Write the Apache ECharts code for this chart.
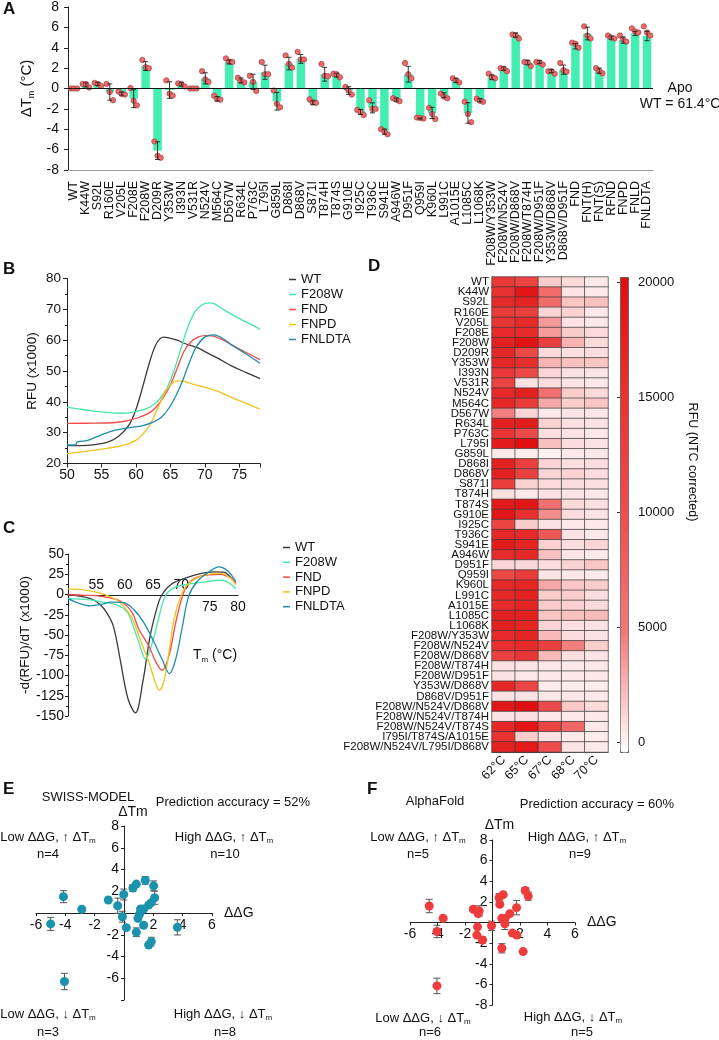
<!DOCTYPE html>
<html><head><meta charset="utf-8">
<script src="https://cdn.jsdelivr.net/npm/echarts@6/dist/echarts.min.js"></script>
<style>html,body{margin:0;padding:0;background:#fff}#c{width:719px;height:1040px}</style>
</head><body><div id="c"></div><script>
const FONT = '"Liberation Sans", Arial, Helvetica, sans-serif';

// ---------- Panel A ----------
const mutants = ['WT','K44W','S92L','R160E','V205L','F208E','F208W','D209R','Y353W','I393N','V531R','N524V','M564C','D567W','R634L','P763C','L795I','G859L','D868I','D868V','S871I','T874H','T874S','G910E','I925C','T936C','S941E','A946W','D951F','Q959I','K960L','L991C','A1015E','L1085C','L1068K','F208W/Y353W','F208W/N524V','F208W/D868V','F208W/T874H','F208W/D951F','Y353W/D868V','D868V/D951F','FND','FNT(H)','FNT(S)','RFND','FNPD','FNLD','FNLDTA'];
const dTmMean = [0,0.35,0.45,-0.35,-0.5,-1.0,2.2,-6.1,-0.15,0.4,0,1.0,-1.0,2.6,0.8,0.65,1.6,-1.25,2.45,2.9,-1.4,1.4,1.3,-0.2,-2.3,-1.9,-4.25,-1.1,1.4,-2.95,-2.4,-0.65,0.8,-2.4,-1.15,1.1,1.95,5.25,2.55,2.6,1.7,1.85,4.15,5.4,1.75,5.0,4.75,5.4,5.15];
const dTmReps = [[0,0,0],[0.45,0.45,0.1],[0.55,0.45,0.25],[0.45,-0.35,-1.15],[-0.3,-0.55,-0.6],[0.05,-1.2,-1.65],[2.8,2.1,2.0],[-5.2,-6.6,-6.8],[0.8,-0.5,-0.7],[0.5,0.45,0.2],[0,0,0],[1.7,0.9,0.65],[-0.7,-1.05,-1.1],[2.95,2.65,2.6],[1.05,0.7,0.6],[1.25,0.65,-0.25],[2.6,1.4,1.4],[-0.2,-1.5,-1.85],[3.25,2.4,2.05],[3.6,2.85,2.85],[-1.05,-1.35,-1.4],[2.4,1.25,1.2],[1.45,1.4,1.1],[0.15,-0.2,-0.6],[-2.1,-2.3,-2.6],[-1.15,-2.0,-2.0],[-4.0,-4.2,-4.5],[-0.95,-1.1,-1.25],[2.5,1.4,1.0],[-2.85,-2.9,-2.95],[-1.9,-2.5,-3.0],[-0.5,-0.8,-0.95],[1.0,0.8,0.6],[-1.3,-2.5,-3.3],[-1.0,-1.2,-1.3],[1.45,1.15,1.0],[2.0,1.95,1.7],[5.3,5.2,4.9],[2.6,2.55,2.2],[2.6,2.55,2.35],[1.7,1.7,1.45],[2.5,1.8,1.65],[4.5,4.4,4.0],[6.1,5.2,4.9],[2.0,1.7,1.5],[5.2,5.0,4.9],[5.2,4.8,4.6],[5.9,5.6,5.5],[6.1,5.5,5.2]];

// ---------- Panel B (RFU x1000 vs T) ----------
const bWT = [[50,25.8],[52,25.8],[54,26.1],[56,27],[57.5,28.8],[59,32.5],[60,37.5],[61,45],[62,53],[63,59],[64,61],[65,60.6],[66,60],[67,59],[69,57.5],[70,56.3],[72,54],[74,51.5],[76,49.5],[78,47.5]];
const bF208W = [[50,38.3],[52,37.6],[54,37],[56,36.5],[58,36.3],[60,36.8],[61.5,37.8],[62.5,39],[63.5,41],[64.5,44.5],[65.5,50],[66.5,57],[67.5,64],[68.5,69],[69.5,71.3],[70.5,72.1],[71.5,71.7],[73,69.5],[75,67],[77,64.8],[78,63.5]];
const bFND = [[50,33],[54,33.1],[57,33.3],[59,34],[60.5,35],[62,36.5],[63,38.5],[64,41.5],[65,45.5],[66,51],[67,56.5],[68,59.5],[69,61],[70,61.5],[71,61.4],[72.5,60.2],[74,58.3],[76,56],[78,53.7]];
const bFNPD = [[50,23.2],[53,24],[56,25],[58,25.8],[60,27.5],[61,29.5],[62,32.5],[63,37],[64,42],[65,45.5],[66,46.8],[67,46.6],[68.5,45.6],[70,44.7],[72,43.3],[74,41.3],[76,39.5],[78,37.6]];
const bFNLDTA = [[50,26],[51.2,26],[51.5,27],[53,27.5],[55,29.3],[57,30.8],[59,31.6],[61,32.3],[62.5,33.4],[63.7,35],[64.8,38],[65.8,42],[66.8,47],[67.8,53],[68.8,58],[70,61],[71.3,61.7],[72.5,60.7],[74,58.3],[76,55.5],[78,52.5]];
const bYTicks = [20,30,40,50,60,70,80];

// ---------- Panel C (-dRFU/dT x1000) ----------
const cWT = [[50,0],[52,-2],[54,-5],[55.6,-12],[56.8,-22],[58,-39],[59.2,-80],[60.6,-129],[61.9,-146],[63.2,-108],[64.5,-51],[65.8,-14],[66.6,0],[68.1,12],[70.2,19],[73.5,26],[75.8,28],[77.5,27.5],[78.2,24.6],[79,19],[79.6,14]];
const cF208W = [[50,-5],[53,-6],[56,-9],[59,-14],[60.5,-22],[61.3,-35],[62.5,-59],[63.7,-80],[64.9,-59],[65.8,-35],[66.9,-6],[67.8,4],[69.3,10],[71.5,13],[73.5,15],[76.9,17.6],[78,16],[79.3,9.5],[79.6,7]];
const cFND = [[50,0],[53,-1],[55.6,-2],[59.2,-8],[61.3,-22],[62.5,-43],[64.3,-64],[65.4,-82],[66.6,-93.5],[67.8,-76],[69,-35],[70.2,-2],[71.3,14],[73.5,23],[76.9,25],[78.7,20.5],[79.6,14]];
const cFNPD = [[50,7],[53,5.5],[55.6,2],[57.5,-3],[59.2,-10],[61.3,-29],[62.7,-55],[64.3,-84],[65.4,-108.6],[66.1,-118],[66.9,-108],[67.8,-72],[68.7,-31],[69.9,-2],[71.1,12],[73.5,22.6],[76.9,26],[78.7,20],[79.6,12]];
const cFNLDTA = [[50,-5],[52,-11],[54,-14],[56,-12],[57.5,-9.5],[59.8,-10],[61.6,-18.5],[63.4,-35],[65.2,-59],[66.6,-80],[67.9,-97.6],[69,-80],[70.2,-39],[71.3,-2],[72.8,16],[74.9,28],[76.6,34],[78.2,29],[79.6,16]];

// ---------- Panel D (heatmap) ----------
const hmRows = ['WT','K44W','S92L','R160E','V205L','F208E','F208W','D209R','Y353W','I393N','V531R','N524V','M564C','D567W','R634L','P763C','L795I','G859L','D868I','D868V','S871I','T874H','T874S','G910E','I925C','T936C','S941E','A946W','D951F','Q959I','K960L','L991C','A1015E','L1085C','L1068K','F208W/Y353W','F208W/N524V','F208W/D868V','F208W/T874H','F208W/D951F','Y353W/D868V','D868V/D951F','F208W/N524V/D868V','F208W/N524V/T874H','F208W/N524V/T874S','I795I/T874S/A1015E','F208W/N524V/L795I/D868V'];
const hmTemps = ['62°C','65°C','67°C','68°C','70°C'];
const hmVals = [
[14000,12000,1500,1000,500],[15000,19000,6500,600,400],[16000,17000,6500,1800,2000],[13500,12500,1200,1300,400],
[14500,16000,3500,700,500],[16000,16000,3500,1500,1000],[17500,19500,13000,2500,1000],[16500,11000,1000,800,900],
[16500,15500,2500,2000,1800],[14000,11000,1200,700,600],[12000,700,900,600,500],[16500,17500,6000,1500,1000],
[16500,13000,3000,1500,1800],[4500,1200,400,600,500],[17500,18000,1300,800,700],[14500,10500,800,700,500],
[18000,20500,2000,900,700],[400,300,100,400,500],[17500,12500,1200,800,900],[17500,12500,1200,1300,900],
[13000,1300,1000,900,800],[800,400,700,600,500],[18500,19000,6000,1000,800],[19000,15500,4000,900,700],
[12000,1500,700,500,400],[16500,16000,9000,700,400],[18500,17000,1400,900,1200],[16000,16500,2000,600,400],
[1200,1100,900,1300,1800],[11000,13000,600,500,400],[16500,17000,3000,1700,1500],[16500,17500,1500,1500,900],
[16000,17000,1600,1400,1000],[17500,17500,1800,2000,2200],[17500,17000,1200,800,700],[16000,17000,2300,900,700],
[15500,16000,12500,4500,1500],[12500,14500,2300,800,600],[700,600,500,500,500],[700,500,400,400,500],
[16500,11500,300,300,300],[700,700,500,500,400],[19000,21000,10500,1700,1000],[700,800,500,500,400],
[16500,19000,12000,7000,500],[15000,1500,700,400,300],[17500,18500,10000,600,400]];

// ---------- Panel E (SWISS-MODEL) ----------
const eDDG = [-4.13,-2.88,-5.0,-4.06,-1.07,-0.43,-0.02,-0.11,0.16,0.61,0.84,1.45,0.84,0.95,1.07,1.13,1.34,1.34,1.68,1.86,2.02,2.09,1.68,1.86,3.64];
const eDTm = [1.5,0.34,-1.0,-6.3,1.2,0.67,1.7,-0.34,-1.35,2.3,2.66,3.0,-1.77,-0.49,-0.09,0.37,0.37,-1.13,0.73,0.95,2.5,1.4,-2.94,-2.63,-1.32];
const eErr = [0.55,0,0.6,0.75,0,0.7,0.5,0.5,0,0.3,0,0.35,0.4,0,0,0,0,0,0,0,0.45,0.6,0,0.4,0.7];

// ---------- Panel F (AlphaFold) ----------
const fDDG = [-4.6,-3.59,-4.04,-4.04,-1.40,-1.04,-0.97,-1.09,-1.14,-0.73,-0.07,0.48,0.53,0.78,0.68,0.92,0.90,0.68,1.26,1.45,1.77,1.75,2.23,2.38,2.6];
const fDTm = [1.6,0.41,-0.87,-6.15,1.28,0.86,1.12,-0.42,-1.22,-1.7,-0.32,2.4,1.76,2.7,0.41,0.38,-0.13,-2.5,0.86,-1.03,-1.22,1.44,-2.82,3.1,2.56];
const fErr = [0.65,0,0.6,0.75,0,0,0.5,0,0,0.3,0.45,0.4,0,0,0,0,0.55,0.45,0,0,0,0.7,0,0.3,0.4];

// ---------- build ----------
function sd(a){const m=a.reduce((s,v)=>s+v,0)/a.length;return Math.sqrt(a.reduce((s,v)=>s+(v-m)*(v-m),0)/(a.length-1));}
const aPts=[]; dTmReps.forEach((r,i)=>r.forEach((v,k)=>aPts.push([i,v,k])));
const aErr = dTmMean.map((m,i)=>[i,m,sd(dTmReps[i])]);
const hmData=[]; hmVals.forEach((row,r)=>row.forEach((v,c)=>hmData.push([c,r,v])));
const eData = eDDG.map((x,i)=>[x,eDTm[i]]);
const eErrData = eDDG.map((x,i)=>[x,eDTm[i],eErr[i]]).filter(d=>d[2]>0);
const fData = fDDG.map((x,i)=>[x,fDTm[i]]);
const fErrData = fDDG.map((x,i)=>[x,fDTm[i],fErr[i]]).filter(d=>d[2]>0);

function errRender(capHalf,color,lw){
  return function(p,api){
    const x=api.value(0), y=api.value(1), e=api.value(2);
    const t=api.coord([x,y+e]), b=api.coord([x,y-e]);
    const st={stroke:color,lineWidth:lw};
    return {type:'group',children:[
      {type:'line',shape:{x1:t[0],y1:t[1],x2:b[0],y2:b[1]},style:st},
      {type:'line',shape:{x1:t[0]-capHalf,y1:t[1],x2:t[0]+capHalf,y2:t[1]},style:st},
      {type:'line',shape:{x1:b[0]-capHalf,y1:b[1],x2:b[0]+capHalf,y2:b[1]},style:st}]};
  };
}

const COL = {WT:'#3a3a3a',F208W:'#46e6a6',FND:'#f24a4a',FNPD:'#efc21e',FNLDTA:'#1f8cac'};
function lineS(name,data,xi,yi){return {type:'line',name,data,xAxisIndex:xi,yAxisIndex:yi,showSymbol:false,smooth:0.35,
  lineStyle:{width:1.3,color:COL[name]},itemStyle:{color:COL[name]},z:3};}

const blk = {color:'#222'};
const lbl = (fs,extra)=>Object.assign({fontSize:fs,color:'#111',fontFamily:FONT},extra||{});
const plain = v=>String(v);

function rt(text,fs,x,y,opt){
  opt=opt||{};
  return {type:'text',x,y,rotation:opt.rot||0,z:100,style:{text,fill:'#111',
    font:(opt.bold?'bold ':'')+fs+'px '+FONT,align:opt.align||'center',verticalAlign:opt.va||'middle',
    rich:{a:{fontSize:fs,fontFamily:FONT,lineHeight:fs+3,fill:'#111'},s:{fontSize:Math.round(fs*0.6),fontFamily:FONT,lineHeight:Math.round(fs*0.6),verticalAlign:'bottom',fill:'#111'}}}};
}

const option = {
  animation:false,
  textStyle:{fontFamily:FONT,color:'#111'},
  grid:[
    {left:68,top:7,width:585,height:163},
    {left:67,top:278.5,width:193,height:185},
    {left:68,top:554,width:170,height:162},
    {left:492,top:277,width:116,height:475},
    {left:620,top:282,width:8,height:460},
    {left:36,top:826,width:176,height:174},
    {left:410,top:840,width:165,height:165}
  ],
  xAxis:[
    {gridIndex:0,type:'category',data:mutants,axisLine:{onZero:false,lineStyle:{color:'#999'}},
      axisTick:{alignWithLabel:true,length:5,lineStyle:{color:'#888'}},
      axisLabel:lbl(12.5,{interval:0,rotate:90,margin:11}),splitLine:{show:false}},
    {gridIndex:1,type:'value',min:50,max:78,interval:5,axisLine:{onZero:false,lineStyle:blk},axisTick:{length:4,lineStyle:blk},
      axisLabel:lbl(14,{margin:5,formatter:v=>v%5===0?String(v):''}),splitLine:{show:false}},
    {gridIndex:2,type:'value',min:50,max:80,interval:5,position:'bottom',offset:-121,axisLine:{onZero:false,lineStyle:blk},axisTick:{show:false},
      axisLabel:lbl(14,{inside:true,margin:3,formatter:v=>(v>=55&&v<=70)?String(v):''}),splitLine:{show:false}},
    {gridIndex:2,type:'value',min:50,max:80,interval:5,position:'bottom',offset:-121,axisLine:{show:false,onZero:false},axisTick:{show:false},
      axisLabel:lbl(14,{margin:5,showMaxLabel:true,formatter:v=>v>=75?String(v):''}),splitLine:{show:false}},
    {gridIndex:3,type:'category',data:hmTemps,axisLine:{show:true,lineStyle:{color:'#444'}},
      axisTick:{alignWithLabel:true,length:4,lineStyle:{color:'#444'}},
      axisLabel:lbl(12.5,{rotate:45,margin:6,interval:0}),splitLine:{show:false}},
    {gridIndex:4,type:'value',show:false,min:0,max:1},
    {gridIndex:5,type:'value',min:-6,max:6,interval:2,position:'bottom',offset:-87,axisLine:{onZero:false,lineStyle:blk},axisTick:{length:3,lineStyle:blk},
      axisLabel:lbl(14,{margin:5,showMinLabel:true,showMaxLabel:true,formatter:v=>v===0?'':String(v)}),splitLine:{show:false},
      name:'ΔΔG',nameLocation:'end',nameGap:12,nameTextStyle:{fontSize:14,color:'#111',verticalAlign:'middle'}},
    {gridIndex:6,type:'value',min:-6,max:6,interval:2,position:'bottom',offset:-82.5,axisLine:{onZero:false,lineStyle:blk},axisTick:{length:3,lineStyle:blk},
      axisLabel:lbl(14,{margin:5,showMinLabel:true,showMaxLabel:true,formatter:v=>v===0?'':String(v)}),splitLine:{show:false},
      name:'ΔΔG',nameLocation:'end',nameGap:12,nameTextStyle:{fontSize:14,color:'#111',verticalAlign:'middle'}}
  ],
  yAxis:[
    {gridIndex:0,type:'value',min:-8,max:8,interval:2,axisLine:{show:true,onZero:false,lineStyle:blk},axisTick:{show:true,length:4,lineStyle:blk},
      axisLabel:lbl(14,{margin:9,showMinLabel:true,showMaxLabel:true}),splitLine:{show:false},
      name:'{a|ΔT}{s|m}{a| (°C)}',nameLocation:'middle',nameGap:25,nameRotate:90,
      nameTextStyle:{rich:{a:{fontSize:15,fontFamily:FONT,color:'#111',lineHeight:17},s:{fontSize:9,fontFamily:FONT,color:'#111',lineHeight:9,verticalAlign:'bottom'}}}},
    {gridIndex:1,type:'value',min:20,max:80,interval:10,axisLine:{show:true,onZero:false,lineStyle:blk},axisTick:{show:true,length:4,lineStyle:blk},
      minorTick:{show:true,splitNumber:2,length:2,lineStyle:blk},axisLabel:lbl(13.5,{margin:6,showMinLabel:true,showMaxLabel:true}),splitLine:{show:false},
      name:'RFU (x1000)',nameLocation:'middle',nameGap:28,nameRotate:90,nameTextStyle:{fontSize:13.5,color:'#111'}},
    {gridIndex:2,type:'value',min:-150,max:50,interval:25,axisLine:{show:true,onZero:false,lineStyle:blk},axisTick:{show:true,length:3,lineStyle:blk},
      minorTick:{show:true,splitNumber:2,length:2,lineStyle:blk},axisLabel:lbl(14,{margin:4,showMinLabel:true,showMaxLabel:true}),splitLine:{show:false},
      name:'-d(RFU)/dT (x1000)',nameLocation:'middle',nameGap:27,nameRotate:90,nameTextStyle:{fontSize:13.5,color:'#111'}},
    {gridIndex:3,type:'category',data:hmRows,inverse:true,axisLine:{show:true,lineStyle:{color:'#444'}},
      axisTick:{alignWithLabel:true,length:3,lineStyle:{color:'#444'}},axisLabel:lbl(11.5,{interval:0,margin:3}),splitLine:{show:false}},
    {gridIndex:4,type:'value',position:'right',min:0,max:20000,interval:5000,axisLine:{show:false},
      axisTick:{show:true,inside:true,length:3,lineStyle:{color:'#333'}},axisLabel:lbl(13,{margin:10,showMinLabel:true,showMaxLabel:true,formatter:plain}),splitLine:{show:false}},
    {gridIndex:5,type:'value',min:-8,max:8,interval:2,position:'left',offset:-88,axisLine:{onZero:false,lineStyle:blk},axisTick:{length:3,lineStyle:blk},
      axisLabel:lbl(14,{margin:5,showMaxLabel:true,formatter:v=>(v===0||v===-8)?'':String(v)}),splitLine:{show:false},
      name:'ΔTm',nameLocation:'end',nameGap:6,nameTextStyle:{fontSize:14,color:'#111',padding:[0,0,0,18]}},
    {gridIndex:6,type:'value',min:-8,max:8,interval:2,position:'left',offset:-82.5,axisLine:{onZero:false,lineStyle:blk},axisTick:{length:3,lineStyle:blk},
      axisLabel:lbl(14,{margin:5,showMinLabel:true,showMaxLabel:true,formatter:v=>v===0?'':String(v)}),splitLine:{show:false},
      name:'ΔTm',nameLocation:'end',nameGap:8,nameTextStyle:{fontSize:14,color:'#111',padding:[0,0,0,14]}}
  ],
  visualMap:[{type:'continuous',seriesIndex:13,min:-435,max:20217,left:620,top:277,itemWidth:8,itemHeight:475,
    calculable:false,hoverLink:false,padding:0,borderColor:'#555',borderWidth:1,
    inRange:{color:['#ffffff','#f27a7a','#ee4e4e','#e83232','#e00e0e']}}],
  legend:[
    {data:['WT','F208W','FND','FNPD','FNLDTA'],left:289,top:273,orient:'vertical',icon:'rect',itemWidth:7,itemHeight:1.5,itemGap:2,
      padding:0,selectedMode:false,textStyle:{fontSize:13,lineHeight:13,color:'#111'}},
    {data:['WT','F208W','FND','FNPD','FNLDTA'],left:283,top:541,orient:'vertical',icon:'rect',itemWidth:7,itemHeight:1.5,itemGap:1.8,
      padding:0,selectedMode:false,textStyle:{fontSize:13,lineHeight:13,color:'#111'}}
  ],
  series:[
    {type:'bar',name:'bars',xAxisIndex:0,yAxisIndex:0,data:dTmMean,barWidth:8.5,itemStyle:{color:'#43efb0'},z:2,
      markLine:{silent:true,symbol:'none',label:{show:false},lineStyle:{color:'#111',width:1,type:'solid'},data:[{yAxis:0}]}},
    {type:'custom',name:'reps',xAxisIndex:0,yAxisIndex:0,data:aPts,z:4,encode:{x:0,y:1},
      renderItem:(p,api)=>{const c=api.coord([api.value(0),api.value(1)]);const off=(api.value(2)-1)*3.2;
        return {type:'circle',shape:{cx:c[0]+off,cy:c[1],r:2.7},style:{fill:'#ee6a6a',stroke:'#8a3535',lineWidth:0.6}};}},
    {type:'custom',name:'errA',xAxisIndex:0,yAxisIndex:0,data:aErr,z:5,encode:{x:0,y:1},renderItem:errRender(2.5,'#222',0.9)},
    lineS('WT',bWT,1,1),lineS('F208W',bF208W,1,1),lineS('FND',bFND,1,1),lineS('FNPD',bFNPD,1,1),lineS('FNLDTA',bFNLDTA,1,1),
    lineS('WT',cWT,2,2),lineS('F208W',cF208W,2,2),lineS('FND',cFND,2,2),lineS('FNPD',cFNPD,2,2),lineS('FNLDTA',cFNLDTA,2,2),
    {type:'heatmap',name:'hm',xAxisIndex:4,yAxisIndex:3,data:hmData,itemStyle:{borderColor:'#3c3c3c',borderWidth:0.7}},
    {type:'custom',name:'errE',xAxisIndex:6,yAxisIndex:5,data:eErrData,z:3,encode:{x:0,y:1},renderItem:errRender(3.5,'#555',1)},
    {type:'scatter',name:'E',xAxisIndex:6,yAxisIndex:5,data:eData,symbolSize:9,itemStyle:{color:'#1b93ae',opacity:1},z:4},
    {type:'custom',name:'errF',xAxisIndex:7,yAxisIndex:6,data:fErrData,z:3,encode:{x:0,y:1},renderItem:errRender(3.5,'#555',1)},
    {type:'scatter',name:'F',xAxisIndex:7,yAxisIndex:6,data:fData,symbolSize:9,itemStyle:{color:'#ee3c3c',opacity:1},z:4}
  ],
  graphic:{elements:[
    rt('A',17,3,1,{bold:true,align:'left',va:'top'}),
    rt('B',17,3,261,{bold:true,align:'left',va:'top'}),
    rt('C',17,3,520,{bold:true,align:'left',va:'top'}),
    rt('D',17,368,258,{bold:true,align:'left',va:'top'}),
    rt('E',17,3,781,{bold:true,align:'left',va:'top'}),
    rt('F',17,367,781,{bold:true,align:'left',va:'top'}),
    rt('Apo',14,680,88),
    rt('WT = 61.4°C',14,680,104),
    rt('RFU (NTC corrected)',12.5,692,462,{rot:-Math.PI/2}),
    rt('{a|T}{s|m}{a| (°C)}',14,193,655,{align:'left'}),
    rt('SWISS-MODEL',13,88,797),
    rt('Prediction accuracy = 52%',13,233,802),
    rt('{a|Low ΔΔG, ↑ ΔT}{s|m}',13,48,837),
    rt('n=4',13,48,854),
    rt('{a|High ΔΔG, ↑ ΔT}{s|m}',13,224,837),
    rt('n=10',13,225,854),
    rt('{a|Low ΔΔG, ↓ ΔT}{s|m}',13,48,1014),
    rt('n=3',13,48,1032),
    rt('{a|High ΔΔG, ↓ ΔT}{s|m}',13,223,1014),
    rt('n=8',13,225,1032),
    rt('AlphaFold',13,435,801),
    rt('Prediction accuracy = 60%',13,597,804),
    rt('{a|Low ΔΔG, ↑ ΔT}{s|m}',13,418,837),
    rt('n=5',13,418,854),
    rt('{a|High ΔΔG, ↑ ΔT}{s|m}',13,577,837),
    rt('n=9',13,580,854),
    rt('{a|Low ΔΔG, ↓ ΔT}{s|m}',13,423,1018),
    rt('n=6',13,430,1032),
    rt('{a|High ΔΔG, ↓ ΔT}{s|m}',13,573,1017),
    rt('n=5',13,582,1032)
  ]}
};
const chart = echarts.init(document.getElementById('c'),null,{renderer:'canvas'});
chart.setOption(option);

// Make sure every panel-B y tick label is drawn (one can be dropped by the layout).
try{
  const ax = chart.getModel().getComponent('yAxis',1).axis;
  const rect = chart.getModel().getComponent('grid',1).coordinateSystem.getRect();
  const list = chart.getZr().storage.getDisplayList(true);
  const visible = t => list.some(el=>{
    if(!el.style || el.style.text!==String(t)) return false;
    let p=el, ig=false; while(p){ if(p.ignore||p.invisible) ig=true; p=p.parent; }
    if(ig) return false;
    const r=el.getBoundingRect().clone(); r.applyTransform(el.getComputedTransform());
    const y=ax.toGlobalCoord(ax.dataToCoord(t));
    return r.x < rect.x && Math.abs(r.y + r.height/2 - y) < 6;
  });
  const extra = [];
  bYTicks.forEach(t=>{
    if(!visible(t)){
      const y=ax.toGlobalCoord(ax.dataToCoord(t));
      extra.push({type:'text',x:rect.x-10,y:y,z:100,style:{text:String(t),fill:'#111',font:'13.5px '+FONT,align:'right',verticalAlign:'middle'}});
    }
  });
  if(extra.length){
    chart.setOption({graphic:{elements:option.graphic.elements.concat(extra)}},{replaceMerge:['graphic']});
  }
}catch(e){}
</script></body></html>
